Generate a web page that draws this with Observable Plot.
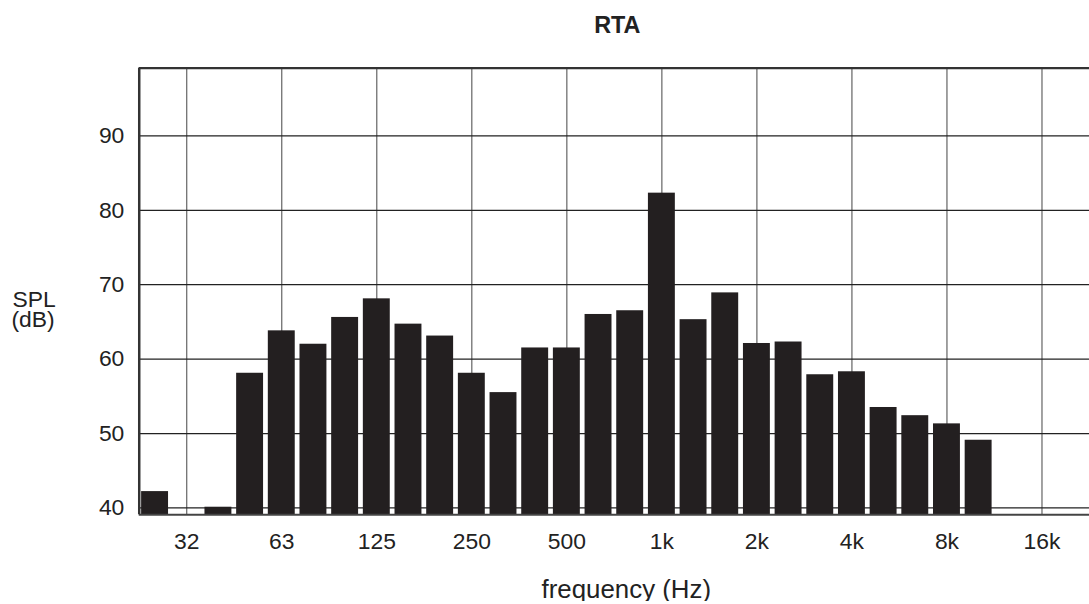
<!DOCTYPE html>
<html><head><meta charset="utf-8">
<script src="https://cdn.jsdelivr.net/npm/d3@7"></script>
<script src="https://cdn.jsdelivr.net/npm/@observablehq/plot@0.6"></script>
<style>html,body{margin:0;padding:0;background:#fff;overflow:hidden;width:1089px;height:604px}</style>
</head><body><div id="chart"></div>
<script>
// third-octave bands (nominal centre frequencies)
const bands = ["25","31.5","40","50","63","80","100","125","160","200","250","315","400","500","630","800","1k","1.25k","1.6k","2k","2.5k","3.15k","4k","5k","6.3k","8k","10k","12.5k","16k","20k"];
// SPL (dB) per band; null = no bar
const spl = [42.2, null, 40.1, 58.1, 63.8, 62.0, 65.6, 68.1, 64.7, 63.1, 58.1, 55.5, 61.5, 61.5, 66.0, 66.5, 82.3, 65.3, 68.9, 62.1, 62.3, 57.9, 58.3, 53.5, 52.4, 51.3, 49.1, null, null, null];
// octave tick bands and their labels
const tickBands = ["31.5","63","125","250","500","1k","2k","4k","8k","16k"];
const tickLabels = ["32","63","125","250","500","1k","2k","4k","8k","16k"];
const yTicks = [40, 50, 60, 70, 80, 90];
const yDomain = [39.1, 99.1];

const data = bands.map((b, i) => ({band: b, i, spl: spl[i]})).filter(d => d.spl != null);
const tickIdx = tickBands.map(b => bands.indexOf(b));
const half = 0.425;
const ink = "#231f20";

const chart = Plot.plot({
  width: 1095,
  height: 604,
  marginLeft: 139.5,
  marginRight: 0,
  marginTop: 68,
  marginBottom: 87,
  style: {fontFamily: "'Liberation Sans', Arial, sans-serif", fontSize: "23px", background: "#fff", color: "#222"},
  x: {type: "linear", domain: [-0.5, bands.length - 0.5], ticks: tickIdx,
      tickFormat: i => tickLabels[tickBands.indexOf(bands[i])], tickSize: 0, tickPadding: 18, label: null},
  y: {domain: yDomain, ticks: yTicks, tickSize: 0, tickPadding: 15, label: null},
  marks: [
    Plot.ruleX(tickIdx, {stroke: "#555", strokeWidth: 1.1}),
    Plot.ruleY(yTicks, {stroke: "#222", strokeWidth: 1.3}),
    Plot.rectY(data, {x1: d => d.i - half, x2: d => d.i + half, y1: yDomain[0], y2: "spl", fill: ink}),
    Plot.ruleY([yDomain[0]], {stroke: "#444", strokeWidth: 2}),
    Plot.ruleY([yDomain[1]], {stroke: "#333", strokeWidth: 2.5}),
    Plot.ruleX([-0.5], {stroke: "#333", strokeWidth: 2.5}),
    Plot.text(["RTA"], {text: d => d, frameAnchor: "top", dx: 3, dy: -43, lineAnchor: "middle", fontSize: 23.5, fontWeight: "bold", fill: "#222"}),
    Plot.text(["frequency (Hz)"], {text: d => d, frameAnchor: "bottom", dx: 12, dy: 75, lineAnchor: "middle", fontSize: 26, fill: "#222"}),
    Plot.text(["SPL"], {text: d => d, frameAnchor: "left", textAnchor: "start", dx: -127.5, dy: 8.5, lineAnchor: "middle", fontSize: 23, fill: "#222"}),
    Plot.text(["(dB)"], {text: d => d, frameAnchor: "left", textAnchor: "start", dx: -128.5, dy: 28.5, lineAnchor: "middle", fontSize: 23, fill: "#222"})
  ]
});
document.getElementById("chart").appendChild(chart);
</script>
</body></html>
